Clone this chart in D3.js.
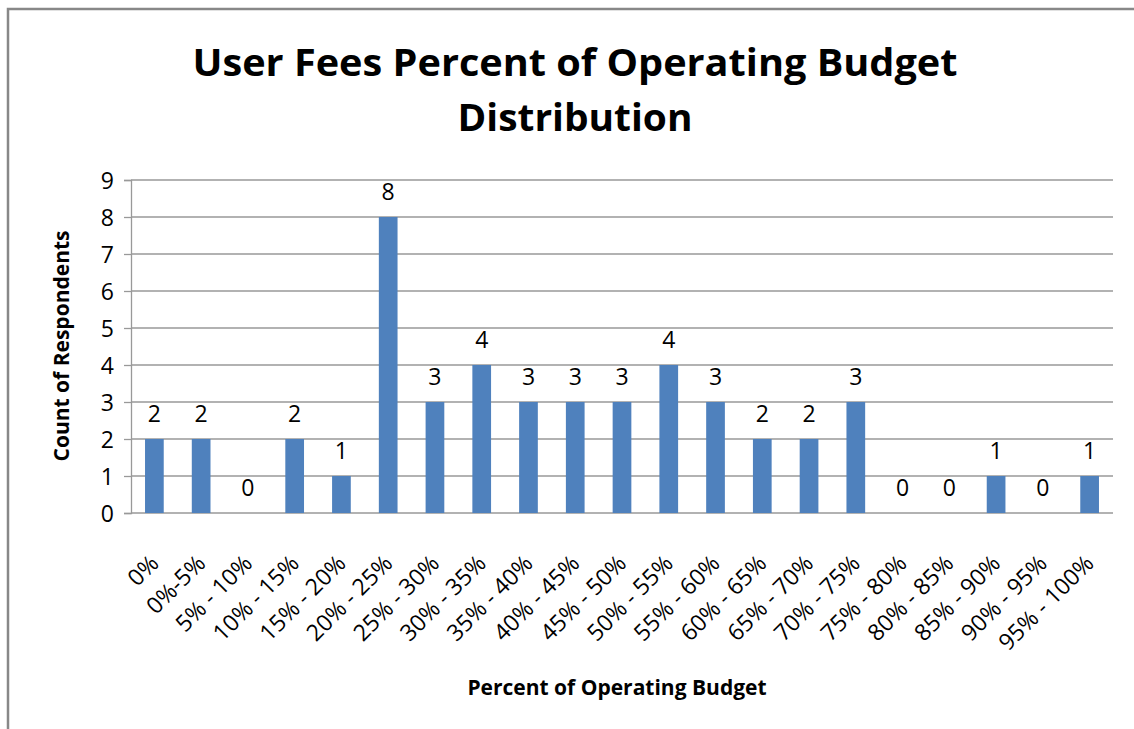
<html>
<script src='https://d3js.org/d3.v7.min.js'></script>
<style>
body {margin:0; background:#fff;}
text {font-family: 'Open Sans', 'Liberation Sans', sans-serif; fill:#000;}
</style>
<body onload='init()'>
<svg width=1134 height=729></svg>
<script>
const categories = ["0%","0%-5%","5% - 10%","10% - 15%","15% - 20%","20% - 25%","25% - 30%","30% - 35%","35% - 40%","40% - 45%","45% - 50%","50% - 55%","55% - 60%","60% - 65%","65% - 70%","70% - 75%","75% - 80%","80% - 85%","85% - 90%","90% - 95%","95% - 100%"];
const counts = [2,2,0,2,1,8,3,4,3,3,3,4,3,2,2,3,0,0,1,0,1];
const yTicks = [0,1,2,3,4,5,6,7,8,9];

function init() {
const svg = d3.select("svg");
const left = 131, right = 1113, top = 180, bottom = 513;

// chart frame
svg.append("path")
    .attr("d","M8,729 L8,9 L1134,9")
    .attr("fill","none").attr("stroke","#888").attr("stroke-width",2.5);

var x = d3.scaleBand().domain(categories).range([left,right]).paddingInner(0.6).paddingOuter(0.3);
var y = d3.scaleLinear().domain([0,9]).range([bottom,top]);

// gridlines
svg.append("g").selectAll("line").data(yTicks).enter().append("line")
    .attr("x1",left).attr("x2",right)
    .attr("y1",d => y(d)).attr("y2",d => y(d))
    .attr("stroke","#999").attr("stroke-width",1.3);

var yAxis = d3.axisLeft(y).tickValues(yTicks).tickSize(7).tickPadding(10);
var gy = svg.append("g").attr("transform","translate("+left+",0)").call(yAxis);
gy.select(".domain").attr("stroke","#999").attr("stroke-width",1.3);
gy.selectAll(".tick line").attr("stroke","#999").attr("stroke-width",1.3);
gy.selectAll("text").style("font-size","23px").attr("fill","#000").attr("dy","0.36em");

svg.append("g").selectAll("rect").data(counts).enter().append("rect")
    .attr("x",(d,i) => x(categories[i]))
    .attr("width",x.bandwidth())
    .attr("y",d => y(d))
    .attr("height",d => y(0) - y(d))
    .attr("fill","#4F81BD");

svg.append("g").selectAll("text").data(counts).enter().append("text")
    .attr("x",(d,i) => x(categories[i]) + x.bandwidth()/2)
    .attr("y",d => y(d) - 17)
    .attr("text-anchor","middle")
    .style("font-size","23px")
    .text(d => d);

// x labels rotated
svg.append("g").selectAll("text").data(categories).enter().append("text")
    .attr("transform",d => "translate("+(x(d) + x.bandwidth()/2)+","+(bottom+46)+") rotate(-45)")
    .attr("text-anchor","end")
    .attr("dy","0.35em")
    .style("font-size","23px")
    .text(d => d);

svg.append("text")
    .attr("x",575).attr("y",76)
    .attr("text-anchor","middle")
    .attr("textLength",765).attr("lengthAdjust","spacingAndGlyphs")
    .style("font-size","37px").style("font-weight","bold")
    .text("User Fees Percent of Operating Budget");
svg.append("text")
    .attr("x",575).attr("y",131)
    .attr("text-anchor","middle")
    .attr("textLength",235).attr("lengthAdjust","spacingAndGlyphs")
    .style("font-size","37px").style("font-weight","bold")
    .text("Distribution");

svg.append("text")
    .attr("transform","translate(69,346) rotate(-90)")
    .attr("text-anchor","middle")
    .style("font-size","21px").style("font-weight","bold")
    .text("Count of Respondents");

svg.append("text")
    .attr("x",617).attr("y",695)
    .attr("text-anchor","middle")
    .style("font-size","21px").style("font-weight","bold")
    .text("Percent of Operating Budget");
}
</script>
</body>
</html>
